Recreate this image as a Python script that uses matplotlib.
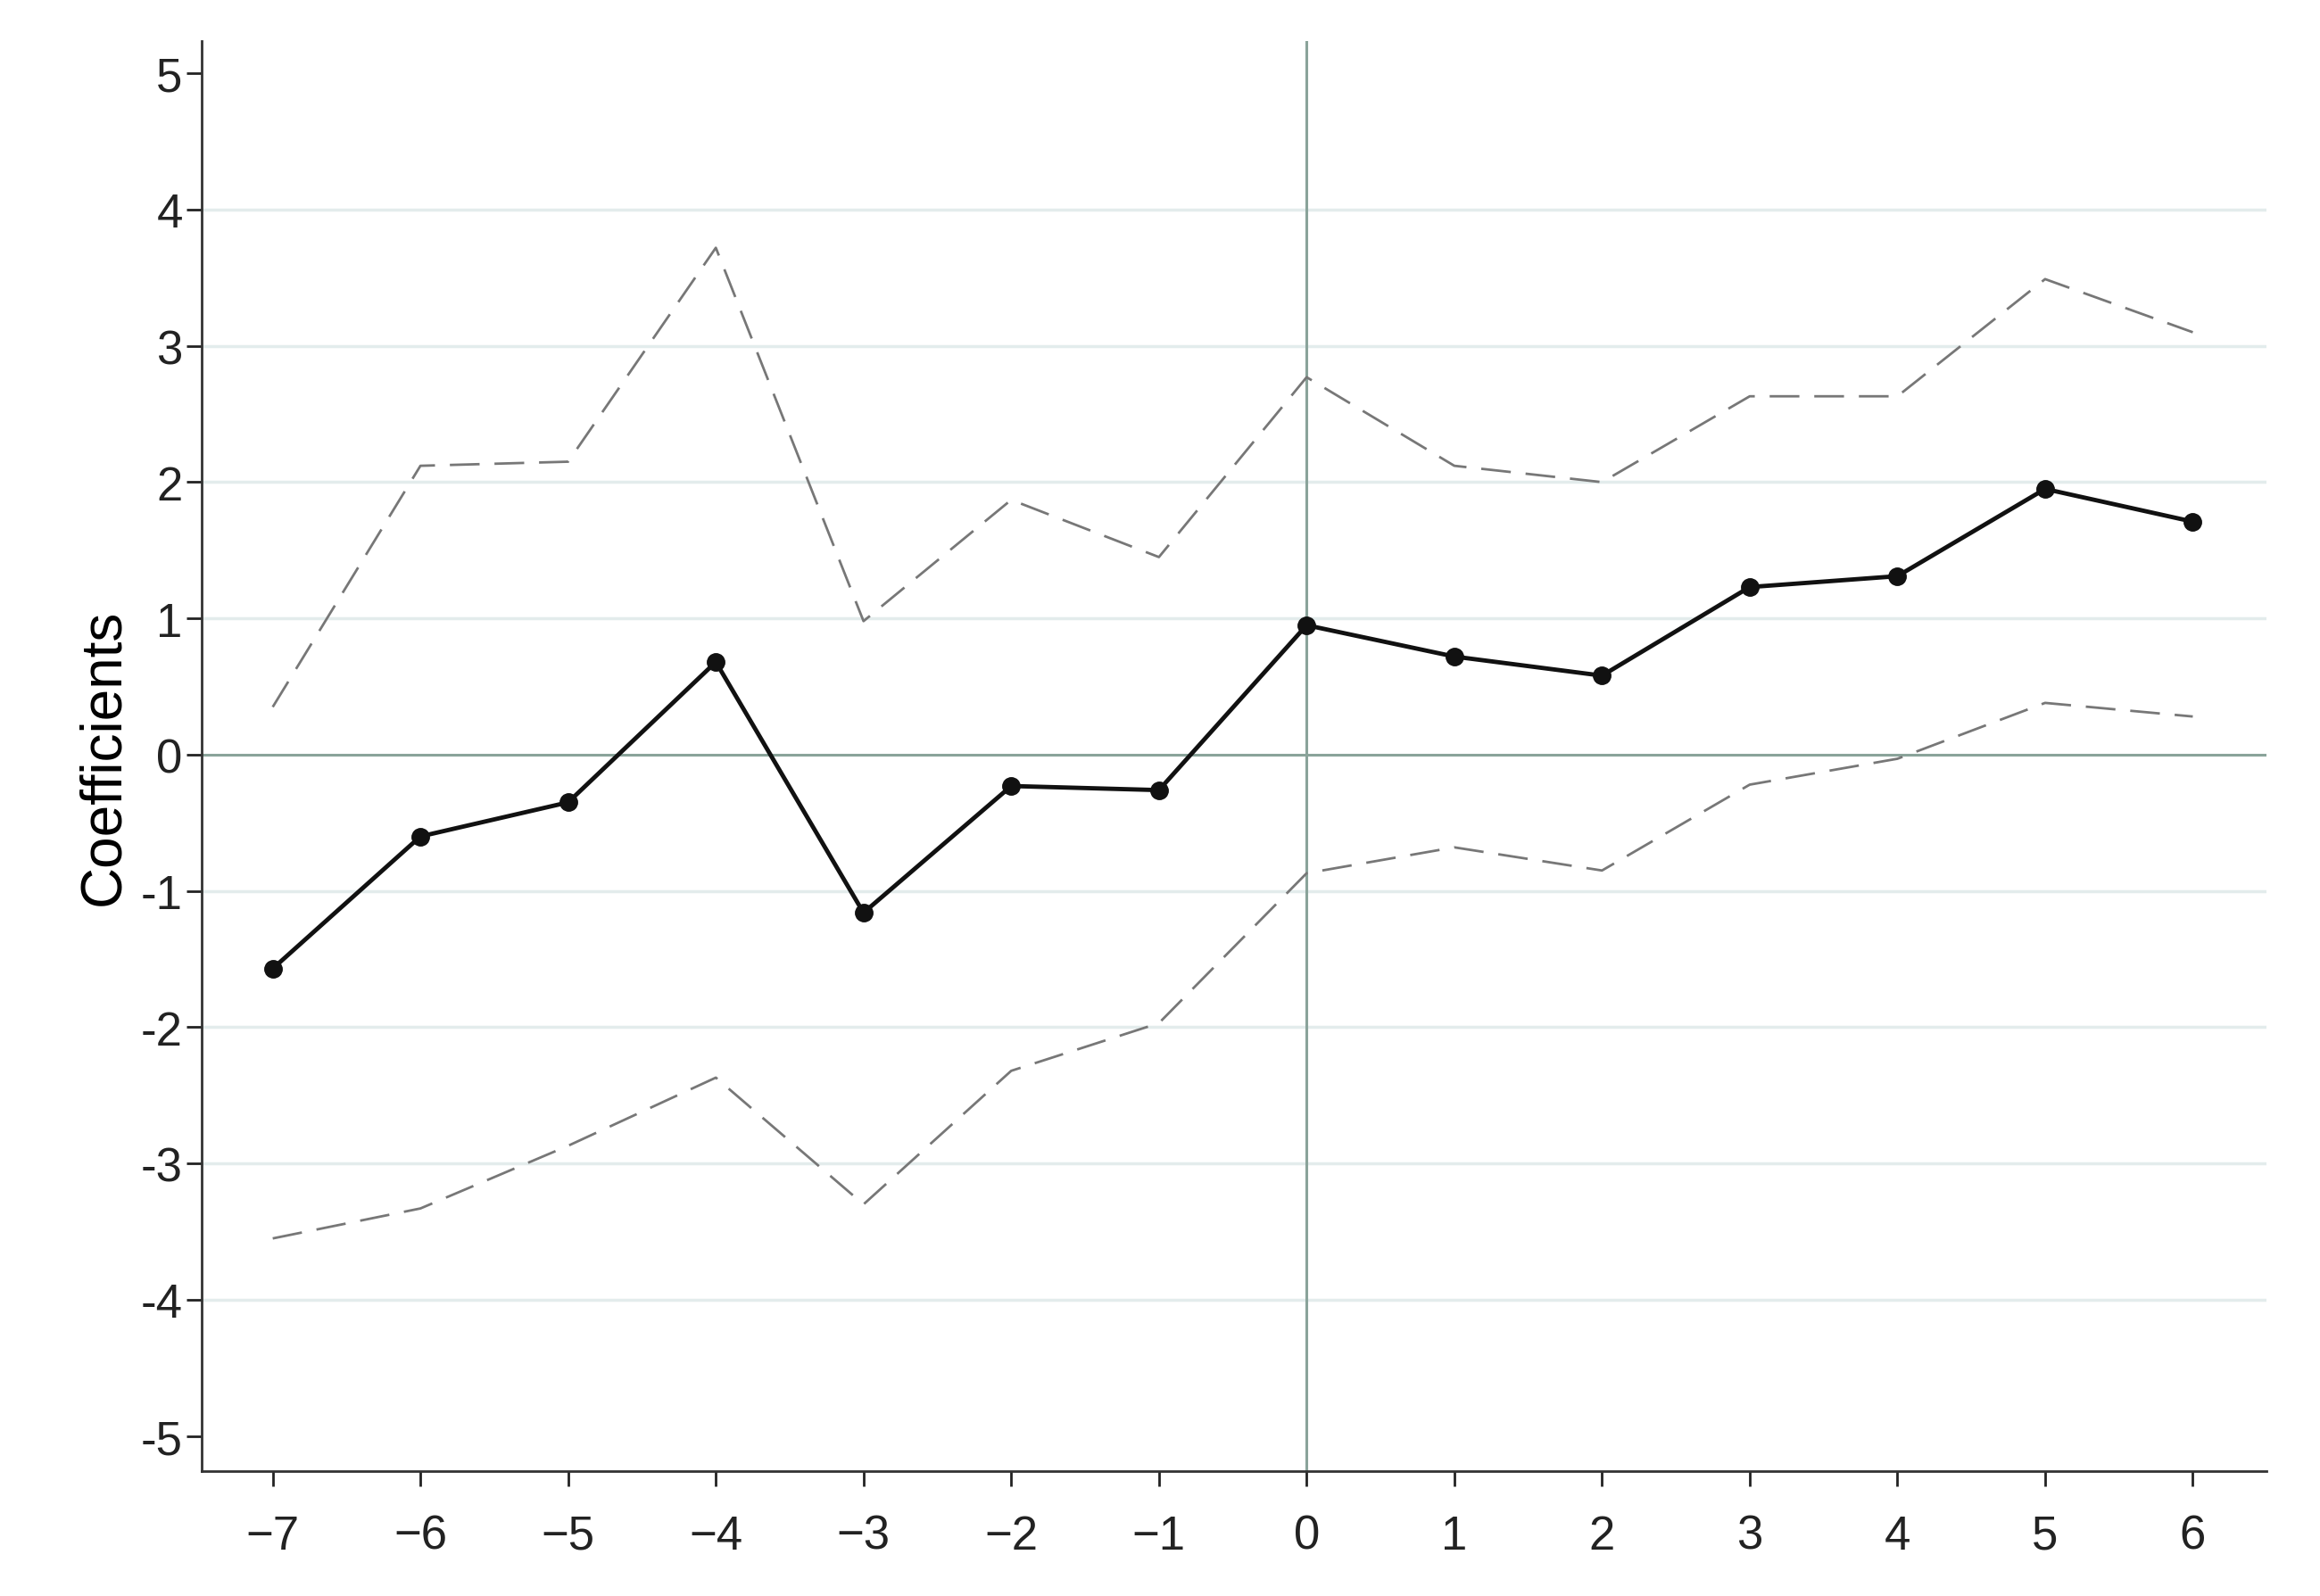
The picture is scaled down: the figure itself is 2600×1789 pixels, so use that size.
import matplotlib
matplotlib.use("Agg")
import matplotlib.pyplot as plt

periods = [-7, -6, -5, -4, -3, -2, -1, 0, 1, 2, 3, 4, 5, 6]
coef = [-1.57, -0.60, -0.35, 0.68, -1.16, -0.23, -0.26, 0.95, 0.72, 0.58, 1.23, 1.31, 1.95, 1.71]
upper = [0.35, 2.12, 2.15, 3.72, 0.98, 1.87, 1.45, 2.77, 2.12, 2.00, 2.63, 2.63, 3.49, 3.10]
lower = [-3.55, -3.33, -2.87, -2.37, -3.30, -2.32, -1.97, -0.87, -0.68, -0.85, -0.22, -0.03, 0.38, 0.28]
xtick_labels = ["\u22127", "\u22126", "\u22125", "\u22124", "\u22123", "\u22122", "\u22121", "0", "1", "2", "3", "4", "5", "6"]
yticks = [-5, -4, -3, -2, -1, 0, 1, 2, 3, 4, 5]
ytick_labels = ["-5", "-4", "-3", "-2", "-1", "0", "1", "2", "3", "4", "5"]

plt.rcParams['font.family'] = ['Liberation Sans', 'DejaVu Sans']
fig = plt.figure(figsize=(26, 17.9), dpi=100)
ax = fig.add_axes([0.087, 0.078, 0.89, 0.896])

for y in [-4, -3, -2, -1, 1, 2, 3, 4]:
    ax.axhline(y, color='#e3ecec', lw=2.5, zorder=0)
ax.axhline(0, color='#8aa39a', lw=2.2, zorder=1)
ax.axvline(0, color='#8aa39a', lw=2.2, zorder=1)

ax.plot(periods, upper, color='#777777', lw=2, dashes=(12, 6))
ax.plot(periods, lower, color='#777777', lw=2, dashes=(12, 6))
ax.plot(periods, coef, color='#111111', lw=3.5, marker='o', ms=14)

ax.set_xlim(-7.48, 6.5)
ax.set_ylim(-5.26, 5.24)
ax.set_xticks(periods)
ax.set_xticklabels(xtick_labels)
ax.set_yticks(yticks)
ax.set_yticklabels(ytick_labels)
ax.tick_params(labelsize=38, width=2, length=12, colors='#222222')
ax.tick_params(axis='x', pad=22)
ax.set_ylabel("Coefficients", fontsize=46, labelpad=8)
for s in ['top', 'right']:
    ax.spines[s].set_visible(False)
for s in ['left', 'bottom']:
    ax.spines[s].set_linewidth(2)
    ax.spines[s].set_color('#333333')

fig.savefig("out.png", dpi=100, facecolor='white')
